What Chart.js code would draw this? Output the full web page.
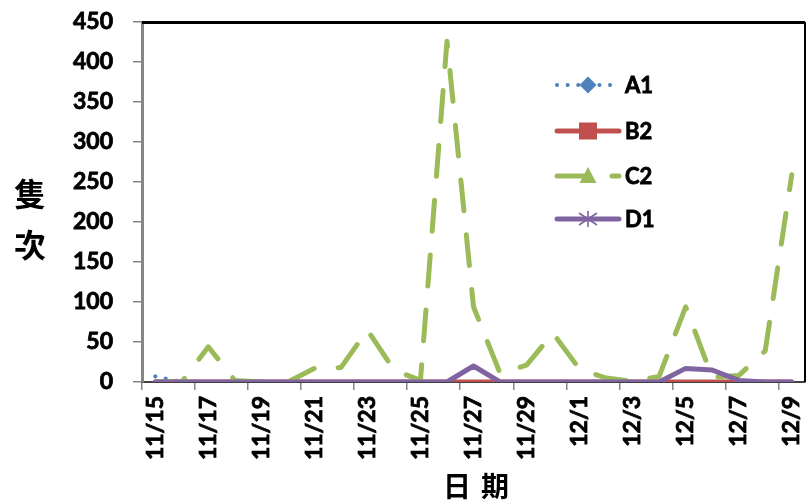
<!DOCTYPE html>
<html>
<head>
<meta charset="utf-8">
<script src="https://cdn.jsdelivr.net/npm/chart.js@4/dist/chart.umd.min.js"></script>
<style>
  html, body { margin: 0; padding: 0; background: #fff; }
  #wrap { width: 807px; height: 503px; }
</style>
</head>
<body>
<div id="wrap"><canvas id="c" width="807" height="503"></canvas></div>
<script>
// Daily counts, 11/15 – 12/9
const categories = [
  '11/15','11/16','11/17','11/18','11/19','11/20','11/21','11/22','11/23','11/24',
  '11/25','11/26','11/27','11/28','11/29','11/30','12/1','12/2','12/3','12/4',
  '12/5','12/6','12/7','12/8','12/9'
];
const seriesNames = ['A1', 'B2', 'C2', 'D1'];
const a1 = [7, 0, 0, 0, 0, 0, 0, 0, 0, 0, 0, 0, 0, 0, 0, 0, 0, 0, 0, 0, 0, 0, 0, 0, 0];
const b2 = [0, 0, 0, 0, 0, 0, 0, 0, 0, 0, 0, 0, 0, 0, 0, 0, 0, 0, 0, 0, 0, 0, 0, 0, 0];
const c2 = [0, 0, 44, 2, 0, 0, 17, 18, 65, 15, 2, 426, 94, 11, 21, 61, 16, 5, 1, 7, 94, 6, 8, 39, 259];
const d1 = [0, 0, 0, 0, 0, 0, 0, 0, 0, 0, 0, 0, 20, 0, 0, 0, 0, 0, 0, 0, 17, 15, 2, 0, 0];
const yTicks = [0, 50, 100, 150, 200, 250, 300, 350, 400, 450];
const yTitle = ['隻', '次'];
const xTitle = ['日', '期'];

const LABEL_FONT = { family: 'Lato', weight: 'bold', size: 23 };
const CJK = '"Noto Sans CJK TC", "Noto Sans CJK SC", sans-serif';

const styles = [
  { color: '#4F81BD', width: 4, dash: [0.1, 10.5], marker: 'diamond' },
  { color: '#C0504D', width: 5, dash: [], marker: 'square' },
  { color: '#9BBB59', width: 5, dash: [31, 24], marker: 'triangle' },
  { color: '#8064A2', width: 5, dash: [], marker: 'star' }
];

function lineDataset(i, data, order) {
  const s = styles[i];
  return {
    label: seriesNames[i],
    data: data,
    order: order,
    borderColor: s.color,
    backgroundColor: s.color,
    borderWidth: s.width,
    borderDash: s.dash,
    borderCapStyle: 'round',
    borderJoinStyle: 'round',
    pointRadius: 0,
    pointHoverRadius: 0,
    tension: 0,
    fill: false
  };
}

function drawMarker(ctx, type, x, y, color) {
  ctx.save();
  ctx.fillStyle = color;
  ctx.strokeStyle = color;
  ctx.setLineDash([]);
  ctx.beginPath();
  if (type === 'diamond') {
    ctx.moveTo(x, y - 8.5); ctx.lineTo(x + 8.5, y); ctx.lineTo(x, y + 8.5); ctx.lineTo(x - 8.5, y);
    ctx.closePath(); ctx.fill();
  } else if (type === 'square') {
    ctx.fillRect(x - 9, y - 8.5, 18, 17);
  } else if (type === 'triangle') {
    ctx.moveTo(x, y - 9); ctx.lineTo(x + 8.5, y + 7); ctx.lineTo(x - 8.5, y + 7);
    ctx.closePath(); ctx.fill();
  } else if (type === 'star') {
    ctx.lineWidth = 1.6;
    ctx.moveTo(x, y - 8); ctx.lineTo(x, y + 8);
    ctx.moveTo(x - 9, y - 6); ctx.lineTo(x + 9, y + 6);
    ctx.moveTo(x - 9, y + 6); ctx.lineTo(x + 9, y - 6);
    ctx.stroke();
  }
  ctx.restore();
}

function boldText(ctx, text, x, y) {
  ctx.lineWidth = 0.8;
  ctx.strokeStyle = '#000';
  ctx.strokeText(text, x, y);
  ctx.fillText(text, x, y);
}

const decorations = {
  id: 'decorations',
  beforeDatasetsDraw(chart) {
    const { ctx, chartArea: a } = chart;
    ctx.save();
    ctx.strokeStyle = '#000';
    ctx.lineWidth = 3;
    ctx.beginPath();
    ctx.moveTo(a.left, a.top + 0.5);
    ctx.lineTo(a.right, a.top + 0.5);
    ctx.stroke();
    ctx.lineWidth = 2;
    ctx.beginPath();
    ctx.moveTo(a.right, a.top);
    ctx.lineTo(a.right, a.bottom);
    ctx.stroke();
    ctx.restore();
  },
  afterDraw(chart) {
    const { ctx } = chart;
    ctx.save();
    // axis titles
    ctx.fillStyle = '#000';
    ctx.textAlign = 'center';
    ctx.textBaseline = 'middle';
    ctx.font = 'bold 32px ' + CJK;
    ctx.fillText(yTitle[0], 30, 194);
    ctx.fillText(yTitle[1], 30, 245);
    ctx.font = 'bold 28px ' + CJK;
    ctx.fillText(xTitle[0], 457, 486);
    ctx.fillText(xTitle[1], 495, 486);

    // legend
    const rows = [85, 131, 176, 219];
    chart.data.datasets.forEach((ds, i) => {
      const y = rows[i];
      const s = styles[i];
      ctx.save();
      ctx.strokeStyle = s.color;
      ctx.lineWidth = s.width;
      ctx.lineCap = 'round';
      ctx.setLineDash(s.dash);
      ctx.beginPath();
      ctx.moveTo(557, y);
      ctx.lineTo(619, y);
      ctx.stroke();
      ctx.restore();
      drawMarker(ctx, s.marker, 588, y, s.color);
      ctx.fillStyle = '#000';
      ctx.textAlign = 'left';
      ctx.textBaseline = 'middle';
      ctx.font = 'bold 22px Lato';
      boldText(ctx, ds.label, 625, y + 1);
    });
    ctx.restore();
  }
};

function build() {
  new Chart(document.getElementById('c'), {
    type: 'line',
    data: {
      labels: categories,
      datasets: [
        lineDataset(0, a1, 3),
        lineDataset(1, b2, 2),
        lineDataset(2, c2, 1),
        lineDataset(3, d1, 0)
      ]
    },
    options: {
      responsive: false,
      devicePixelRatio: 1,
      animation: false,
      layout: { padding: { left: 0, top: 22, right: 2, bottom: 0 } },
      plugins: { legend: { display: false }, tooltip: { enabled: false } },
      scales: {
        x: {
          type: 'category',
          offset: true,
          afterFit: s => {
            s.height = 121;
            s.paddingLeft = 0; s.paddingRight = 0; s.paddingTop = 0; s.paddingBottom = 0;
          },
          border: { color: '#404040', width: 2 },
          grid: {
            offset: true,
            drawOnChartArea: false,
            drawTicks: true,
            tickLength: 8,
            lineWidth: 1.5,
            color: c => (c.index % 2 === 0 ? '#868686' : 'rgba(0,0,0,0)')
          },
          ticks: {
            autoSkip: false,
            maxRotation: 90,
            minRotation: 90,
            padding: 6,
            color: '#000',
            textStrokeColor: '#000',
            textStrokeWidth: 0.8,
            font: LABEL_FONT,
            callback: (v, i) => (i % 2 === 0 ? categories[i] : '')
          }
        },
        y: {
          min: yTicks[0],
          max: yTicks[yTicks.length - 1],
          afterFit: s => {
            s.width = 142;
            s.paddingLeft = 0; s.paddingRight = 0; s.paddingTop = 0; s.paddingBottom = 0;
          },
          afterBuildTicks: s => { s.ticks = yTicks.map(v => ({ value: v })); },
          border: { color: '#868686', width: 3 },
          grid: {
            drawOnChartArea: false,
            drawTicks: true,
            tickLength: 9,
            lineWidth: 1.5,
            color: '#868686'
          },
          ticks: {
            padding: 20,
            color: '#000',
            textStrokeColor: '#000',
            textStrokeWidth: 0.8,
            font: LABEL_FONT
          }
        }
      }
    },
    plugins: [decorations]
  });
}

Promise.all([
  document.fonts.load('bold 23px Lato'),
  document.fonts.load('bold 30px "Noto Sans CJK TC"', '隻次日期')
]).then(build, build);
</script>
</body>
</html>
